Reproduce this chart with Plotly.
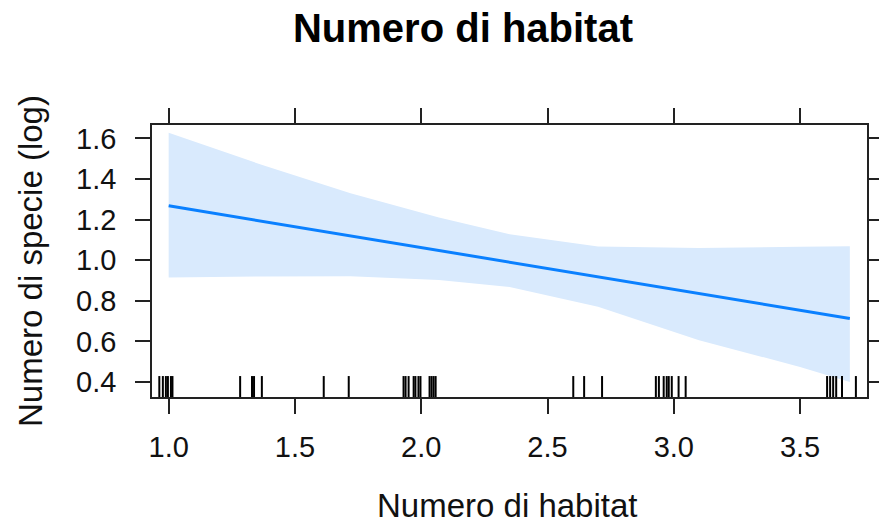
import plotly.graph_objects as go

# ---- data ----
line_x = [1.0, 3.697]
line_y = [1.268, 0.713]

band_x = [1.0, 1.38, 1.72, 2.07, 2.35, 2.70, 3.10, 3.50, 3.697]
band_upper = [1.628, 1.465, 1.330, 1.210, 1.128, 1.068, 1.060, 1.066, 1.069]
band_lower = [0.915, 0.920, 0.921, 0.902, 0.868, 0.770, 0.606, 0.474, 0.400]

rug_x = [0.963, 0.977, 0.989, 0.997, 1.009, 1.015, 1.283, 1.330, 1.338, 1.369,
         1.614, 1.713, 1.930, 1.938, 1.950, 1.970, 1.977, 1.989, 1.997, 2.033,
         2.041, 2.049, 2.057, 2.602, 2.645, 2.716, 2.929, 2.941, 2.960, 2.972,
         2.980, 2.992, 3.019, 3.047, 3.607, 3.619, 3.631, 3.643, 3.666, 3.721]

x_ticks = [1.0, 1.5, 2.0, 2.5, 3.0, 3.5]
y_ticks = [0.4, 0.6, 0.8, 1.0, 1.2, 1.4, 1.6]

title_text = "Numero di habitat"
x_title = "Numero di habitat"
y_title = "Numero di specie (log)"

FONT = "Liberation Sans, Arial, sans-serif"
AX = "#222222"

fig = go.Figure()

fig.add_trace(go.Scatter(
    x=band_x + band_x[::-1],
    y=band_upper + band_lower[::-1],
    fill="toself", fillcolor="#d9eafd", mode="none",
    hoverinfo="skip", showlegend=False))

fig.add_trace(go.Scatter(
    x=line_x, y=line_y, mode="lines",
    line=dict(color="#0a80ff", width=3), showlegend=False))

for rx in rug_x:
    fig.add_shape(type="line", xref="x", yref="y domain",
                  x0=rx, x1=rx, y0=0, y1=0.077,
                  line=dict(color="black", width=2))

fig.update_layout(
    width=879, height=524,
    margin=dict(l=152, r=12, t=125, b=127, autoexpand=False),
    paper_bgcolor="white", plot_bgcolor="white",
    font=dict(family=FONT, color="black"),
    title=dict(text=f"<b>{title_text}</b>", x=463 / 879, y=1 - 28 / 524,
               xanchor="center", yanchor="middle",
               font=dict(size=40, family=FONT, color="black")),
    showlegend=False,
)

fig.update_xaxes(
    range=[0.934, 3.765], tickvals=x_ticks,
    ticktext=[f"{v:.1f}" for v in x_ticks],
    showgrid=False, zeroline=False, automargin=False,
    showline=True, linecolor=AX, linewidth=1.5, mirror="ticks",
    ticks="outside", ticklen=15, tickwidth=1.5, tickcolor=AX,
    tickfont=dict(size=29, family=FONT, color="#111"),
    ticklabelstandoff=8,
)
fig.update_yaxes(
    range=[0.326, 1.666], tickvals=y_ticks,
    ticktext=[f"{v:.1f}" for v in y_ticks],
    showgrid=False, zeroline=False, automargin=False,
    showline=True, linecolor=AX, linewidth=1.5, mirror="ticks",
    ticks="outside", ticklen=15, tickwidth=1.5, tickcolor=AX,
    tickfont=dict(size=29, family=FONT, color="#111"),
    ticklabelstandoff=13,
)

fig.add_annotation(text=x_title, xref="paper", yref="paper",
                   x=0.4965, y=(397 - 505) / 272, xanchor="center", yanchor="middle",
                   showarrow=False, font=dict(size=33, family=FONT, color="#111"))
fig.add_annotation(text=y_title, xref="paper", yref="paper",
                   x=(30 - 152) / 715, y=0.5, xanchor="center", yanchor="middle",
                   textangle=-90, showarrow=False,
                   font=dict(size=33, family=FONT, color="#111"))

fig.write_html("out.html")
